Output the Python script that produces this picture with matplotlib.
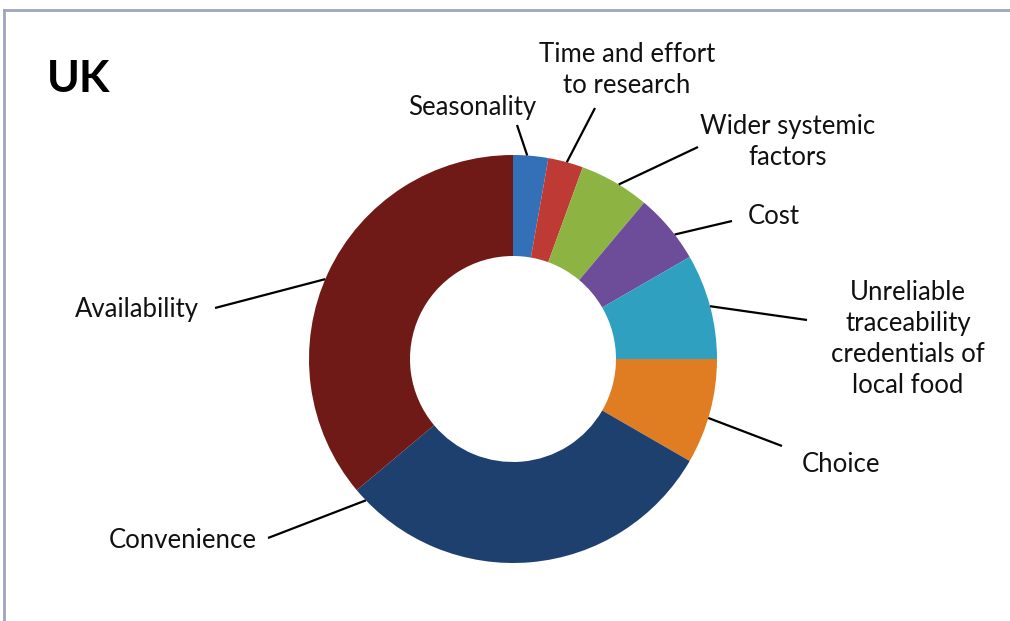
"""Donut chart: barriers to buying local food (UK)."""
import numpy as np
import matplotlib
matplotlib.use("Agg")
import matplotlib.pyplot as plt
from matplotlib.lines import Line2D

W, H = 1010, 621

labels = ["Seasonality", "Time and effort\nto research", "Wider systemic\nfactors", "Cost",
          "Unreliable\ntraceability\ncredentials of\nlocal food", "Choice", "Convenience",
          "Availability"]
counts = [1, 1, 2, 2, 3, 3, 11, 13]
colors = ["#3470B8", "#BE3B35", "#8DB443", "#6D4C99", "#2FA0C0", "#E07C22", "#1E406F", "#701A17"]

# label placement (pixels from top-left) and where the leader line ends
text_pos = [(472, 107), (627, 70), (788, 142), (774, 216), (908, 339), (841, 464),
            (183, 541), (137, 310)]
line_end = [(517, 125), (595, 108), (698, 147), (732, 221), (807, 320), (782, 446),
            (268, 538), (215, 308)]
# fraction along each wedge (clockwise) where the leader touches the ring
anchor_frac = [0.4, 0.53, 0.56, 0.62, 0.5, 0.56, 0.965, 0.485]

CX, CY, R, RING = 513, 359, 204, 101

plt.rcParams["font.family"] = ["Lato", "DejaVu Sans"]

fig = plt.figure(figsize=(W / 100, H / 100), dpi=100)
ax = fig.add_axes([0, 0, 1, 1])

wedges, _ = ax.pie(counts, colors=colors, startangle=90, counterclock=False,
                   radius=R, center=(CX, H - CY),
                   wedgeprops=dict(width=RING, edgecolor="none"))
ax.set_xlim(0, W)
ax.set_ylim(0, H)
ax.set_aspect("auto")
ax.axis("off")

for w, lab, tp, le, f in zip(wedges, labels, text_pos, line_end, anchor_frac):
    # clockwise drawing: the wedge starts at theta2 and runs down to theta1
    ang = np.deg2rad(w.theta2 + (w.theta1 - w.theta2) * f)
    x0 = CX + R * np.cos(ang)
    y0 = (H - CY) + R * np.sin(ang)
    ax.plot([x0, le[0]], [y0, H - le[1]], color="black", lw=1.6, solid_capstyle="butt")
    ax.text(tp[0], H - tp[1], lab, ha="center", va="center", fontsize=18.5,
            linespacing=1.3, color="#111111")

ax.text(47, H - 79, "UK", ha="left", va="center", fontsize=32, fontweight="bold",
        color="black")

# frame remnants of the original chart area
fig.add_artist(Line2D([4 / W, 1], [1 - 10 / H, 1 - 10 / H], color="#9DA5C0", lw=2))
fig.add_artist(Line2D([4 / W, 4 / W], [0, 1 - 10 / H], color="#9DA5C0", lw=2))

fig.savefig("out.png", dpi=100)
